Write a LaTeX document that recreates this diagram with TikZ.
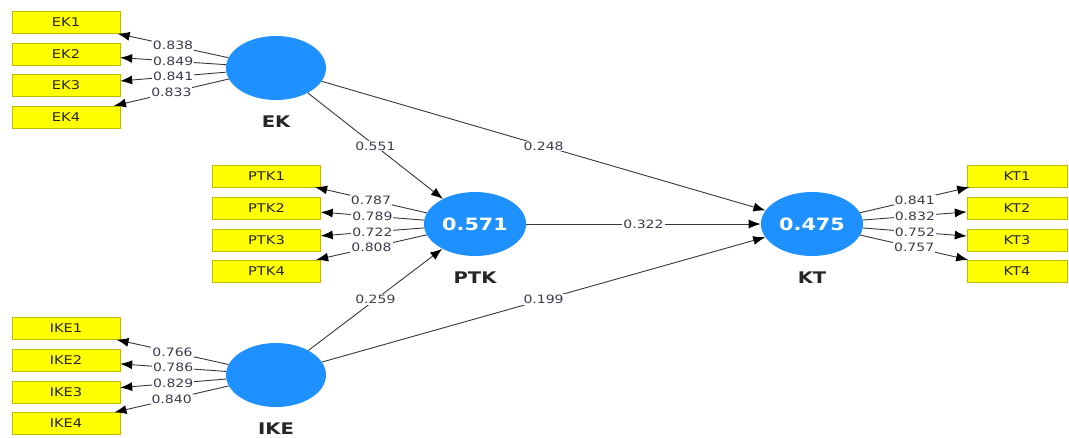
\documentclass[tikz,border=0pt]{standalone}
\usepackage{fontspec}
\setmainfont{DejaVu Sans}[FakeStretch=1.22]
\usepackage{tikz}
\usetikzlibrary{arrows.meta,positioning,shapes}

\definecolor{plsblue}{RGB}{30,144,255}
\definecolor{plsyellow}{RGB}{255,255,0}
\definecolor{plsborder}{RGB}{190,190,0}
\definecolor{plsline}{RGB}{55,55,55}
\definecolor{plstext}{RGB}{60,60,80}

\tikzset{
  latent/.style={ellipse,fill=plsblue,minimum width=100pt,minimum height=64pt,
                 text=white,font=\fontsize{17}{17}\selectfont\bfseries},
  indicator/.style={draw=plsborder,fill=plsyellow,minimum width=108pt,minimum height=22pt,
                    inner sep=0pt,text=black!85,font=\fontsize{12}{12}\selectfont},
  lvname/.style={font=\fontsize{16}{16}\selectfont\bfseries,text=black!85},
  coef/.style={fill=white,inner sep=1pt,text=plstext,font=\fontsize{11.5}{11.5}\selectfont},
  link/.style={draw=plsline,line width=0.9pt,-{Latex[length=12pt,width=9pt,color=black]}}
}

\begin{document}
\begin{tikzpicture}[x=1pt,y=-1pt]
        \useasboundingbox (0,0) rectangle (1069,437);

        % latent variables
        \node[latent] (ek) at (276,68) {};
        \node[lvname,below=12pt of ek] (ek_name) {EK};
        \node[latent] (ptk) at (475,224) {0.571};
        \node[lvname,below=12pt of ptk] (ptk_name) {PTK};
        \node[latent] (kt) at (812,224) {0.475};
        \node[lvname,below=12pt of kt] (kt_name) {KT};
        \node[latent] (ike) at (276,375) {};
        \node[lvname,below=12pt of ike] (ike_name) {IKE};

        % EK indicators
        \node[indicator] (ek1) at (66,22.5) {EK1};
        \node[indicator] (ek2) at (66,54) {EK2};
        \node[indicator] (ek3) at (66,85.5) {EK3};
        \node[indicator] (ek4) at (66,117) {EK4};
        \draw[link] (ek) -- node[coef] {0.838} (ek1);
        \draw[link] (ek) -- node[coef] {0.849} (ek2);
        \draw[link] (ek) -- node[coef] {0.841} (ek3);
        \draw[link] (ek) -- node[coef] {0.833} (ek4);

        % PTK indicators
        \node[indicator] (ptk1) at (266.5,176) {PTK1};
        \node[indicator] (ptk2) at (266.5,208) {PTK2};
        \node[indicator] (ptk3) at (266.5,240) {PTK3};
        \node[indicator] (ptk4) at (266.5,271) {PTK4};
        \draw[link] (ptk) -- node[coef] {0.787} (ptk1);
        \draw[link] (ptk) -- node[coef] {0.789} (ptk2);
        \draw[link] (ptk) -- node[coef] {0.722} (ptk3);
        \draw[link] (ptk) -- node[coef] {0.808} (ptk4);

        % KT indicators
        \node[indicator,minimum width=100pt] (kt1) at (1017,176) {KT1};
        \node[indicator,minimum width=100pt] (kt2) at (1017,208) {KT2};
        \node[indicator,minimum width=100pt] (kt3) at (1017,240) {KT3};
        \node[indicator,minimum width=100pt] (kt4) at (1017,271) {KT4};
        \draw[link] (kt) -- node[coef] {0.841} (kt1);
        \draw[link] (kt) -- node[coef] {0.832} (kt2);
        \draw[link] (kt) -- node[coef] {0.752} (kt3);
        \draw[link] (kt) -- node[coef] {0.757} (kt4);

        % IKE indicators
        \node[indicator] (ike1) at (66,328.5) {IKE1};
        \node[indicator] (ike2) at (66,360) {IKE2};
        \node[indicator] (ike3) at (66,392) {IKE3};
        \node[indicator] (ike4) at (66,423.5) {IKE4};
        \draw[link] (ike) -- node[coef] {0.766} (ike1);
        \draw[link] (ike) -- node[coef] {0.786} (ike2);
        \draw[link] (ike) -- node[coef] {0.829} (ike3);
        \draw[link] (ike) -- node[coef] {0.840} (ike4);

        % structural paths
        \draw[link] (ek) -- node[coef] {0.551} (ptk);
        \draw[link] (ek) -- node[coef] {0.248} (kt);
        \draw[link] (ptk) -- node[coef] {0.322} (kt);
        \draw[link] (ike) -- node[coef] {0.259} (ptk);
        \draw[link] (ike) -- node[coef] {0.199} (kt);
    \end{tikzpicture}
\end{document}
